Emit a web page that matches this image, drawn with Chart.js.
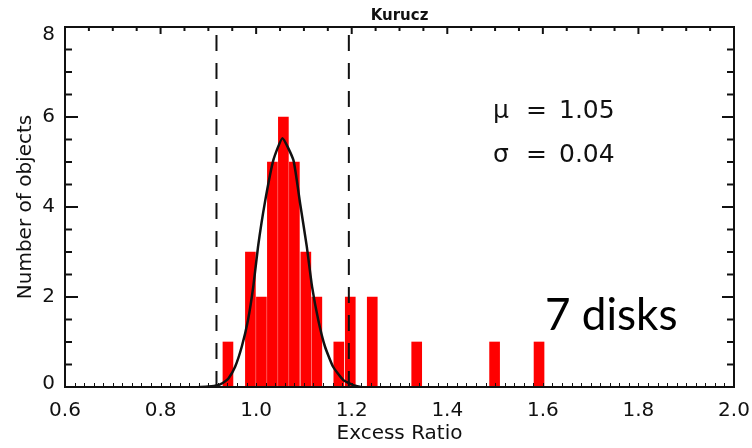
<!DOCTYPE html>
<html>
<head>
<meta charset="utf-8">
<script src="https://cdn.jsdelivr.net/npm/chart.js@4"></script>
<style>
  html, body { margin: 0; padding: 0; background: #fff; }
  canvas { display: block; }
</style>
</head>
<body>
<canvas id="c" width="752" height="448"></canvas>
<script>
// ---- data ----
const chartTitle = "Kurucz";
const xAxisTitle = "Excess Ratio";
const yAxisTitle = "Number of objects";
const binCenters = [0.941, 0.988, 1.011, 1.034, 1.057, 1.080, 1.104, 1.127, 1.173, 1.197, 1.243, 1.336, 1.499, 1.592];
const binCounts  = [1,     3,     2,     5,     6,     5,     3,     2,     1,     2,     2,     1,     1,     1];
const fitX = [0.880, 0.900, 0.920, 0.930, 0.942, 0.956, 0.970, 0.983, 0.994, 1.004, 1.018, 1.036, 1.055, 1.078, 1.092, 1.106, 1.117, 1.130, 1.144, 1.161, 1.182, 1.203, 1.220];
const fitY = [0.00,  0.01,  0.04,  0.09,  0.19,  0.45,  0.90,  1.49,  2.23,  3.12,  4.08,  5.04,  5.53,  5.04,  4.08,  3.12,  2.23,  1.49,  0.90,  0.45,  0.16,  0.04,  0.00];
const cutLines = [0.917, 1.194];
const xTickValues = [0.6, 0.8, 1.0, 1.2, 1.4, 1.6, 1.8, 2.0];
const yTickValues = [0, 2, 4, 6, 8];
const statLabels = ["μ", "σ"];
const statValues = ["1.05", "0.04"];
const noteText = "7 disks";

const X_MIN = 0.6, X_MAX = 2.0, Y_MIN = 0, Y_MAX = 8;

const barData = binCenters.map((x, i) => ({ x: x, y: binCounts[i] }));
const fitData = fitX.map((x, i) => ({ x: x, y: fitY[i] }));
const cutSets = cutLines.map(v => ({
  type: 'line',
  data: [{ x: v, y: Y_MIN }, { x: v, y: Y_MAX }],
  borderColor: '#111',
  borderWidth: 2,
  borderDash: [16, 12],
  pointRadius: 0,
  tension: 0,
  order: 0
}));

const frame = {
  id: 'frame',
  afterDraw(chart) {
    const ctx = chart.ctx;
    const a = chart.chartArea;
    const xs = chart.scales.x, ys = chart.scales.y;
    ctx.save();
    ctx.strokeStyle = '#111';
    ctx.lineCap = 'butt';
    // bottom minor ticks (tiny)
    ctx.lineWidth = 1;
    for (let k = 0; k <= 70; k++) {
      const v = X_MIN + k * 0.02;
      const px = Math.round(xs.getPixelForValue(v)) + 0.5;
      ctx.beginPath(); ctx.moveTo(px, a.bottom); ctx.lineTo(px, a.bottom - 4); ctx.stroke();
    }
    ctx.lineWidth = 2;
    // top ticks
    for (let k = 0; k <= 28; k++) {
      const v = X_MIN + k * 0.05;
      const major = k % 4 === 0;
      const px = xs.getPixelForValue(v);
      ctx.beginPath(); ctx.moveTo(px, a.top); ctx.lineTo(px, a.top + (major ? 7 : 4)); ctx.stroke();
    }
    // left and right ticks
    for (let k = 0; k <= 16; k++) {
      const v = Y_MIN + k * 0.5;
      const major = k % 4 === 0;
      const py = ys.getPixelForValue(v);
      ctx.beginPath(); ctx.moveTo(a.left, py); ctx.lineTo(a.left + (major ? 13 : 7), py); ctx.stroke();
      ctx.beginPath(); ctx.moveTo(a.right, py); ctx.lineTo(a.right - (major ? 12 : 7), py); ctx.stroke();
    }
    // box
    ctx.strokeRect(a.left, a.top, a.right - a.left, a.bottom - a.top);

    // y tick labels (kept inside the frame vertically, as in the reference)
    ctx.fillStyle = '#111';
    ctx.font = '20px "DejaVu Sans"';
    ctx.textAlign = 'right';
    ctx.textBaseline = 'middle';
    yTickValues.forEach(v => {
      let py = ys.getPixelForValue(v);
      py = Math.max(a.top + 8, Math.min(a.bottom - 3, py));
      ctx.fillText(String(v), a.left - 10, py);
    });

    // title
    ctx.fillStyle = '#111';
    ctx.font = 'bold 15px "DejaVu Sans"';
    ctx.textAlign = 'center';
    ctx.textBaseline = 'alphabetic';
    ctx.fillText(chartTitle, (a.left + a.right) / 2, 20);

    // stats
    ctx.textAlign = 'left';
    ctx.font = '25px "DejaVu Sans"';
    const rows = [118, 162];
    statLabels.forEach((s, i) => {
      ctx.fillText(s, 493, rows[i]);
      ctx.fillText('=', 526, rows[i]);
      ctx.fillText(statValues[i], 559, rows[i]);
    });

    // note
    ctx.font = '44px Lato';
    ctx.fillStyle = '#000';
    ctx.fillText(noteText, 545, 330);
    ctx.restore();
  }
};

new Chart(document.getElementById('c'), {
  type: 'bar',
  data: {
    datasets: [
      {
        type: 'bar',
        data: barData,
        backgroundColor: '#ff0000',
        borderWidth: 0,
        barThickness: 10,
        order: 2
      },
      {
        type: 'line',
        data: fitData,
        borderColor: '#111',
        borderWidth: 2.5,
        pointRadius: 0,
        tension: 0.15,
        order: 1
      },
      ...cutSets
    ]
  },
  options: {
    responsive: false,
    animation: false,
    devicePixelRatio: 1,
    layout: { padding: { left: 0, right: 18, top: 27, bottom: 0 } },
    plugins: { legend: { display: false }, tooltip: { enabled: false }, title: { display: false } },
    scales: {
      x: {
        type: 'linear',
        min: X_MIN, max: X_MAX,
        offset: false,
        grid: { display: false, drawTicks: false },
        border: { display: false },
        afterBuildTicks: s => { s.ticks = xTickValues.map(v => ({ value: v })); },
        afterFit: s => { s.height = 61; s.paddingLeft = 0; s.paddingRight = 0; },
        ticks: {
          padding: 12,
          color: '#111',
          font: { family: 'DejaVu Sans', size: 20 },
          maxRotation: 0,
          autoSkip: false,
          callback: v => Number(v).toFixed(1)
        },
        title: {
          display: true,
          text: xAxisTitle,
          color: '#111',
          font: { family: 'DejaVu Sans', size: 20 },
          padding: { top: 0, bottom: 2 }
        }
      },
      y: {
        type: 'linear',
        min: Y_MIN, max: Y_MAX,
        grid: { display: false, drawTicks: false },
        border: { display: false },
        afterBuildTicks: s => { s.ticks = yTickValues.map(v => ({ value: v })); },
        afterFit: s => { s.width = 65; s.paddingTop = 0; s.paddingBottom = 0; },
        ticks: { display: false },
        title: {
          display: true,
          text: yAxisTitle,
          color: '#111',
          font: { family: 'DejaVu Sans', size: 20 },
          padding: { top: 14, bottom: 0 }
        }
      }
    }
  },
  plugins: [frame]
});
</script>
</body>
</html>
